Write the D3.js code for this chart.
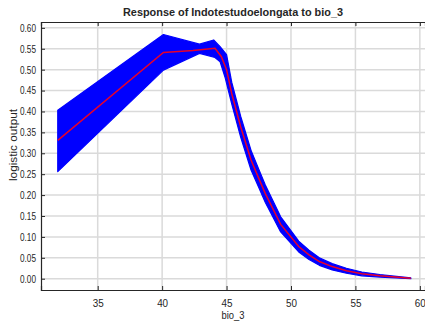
<!DOCTYPE html>
<html>
<head>
<meta charset="utf-8">
<script src="https://cdn.jsdelivr.net/npm/d3@7"></script>
<style>
body{margin:0;background:#fff}
svg{display:block}
text{font-family:"Liberation Sans",Arial,sans-serif;fill:#262626}
</style>
</head>
<body>
<svg id="chart" width="425" height="324"></svg>
<script>
// mean response curve (red)
var meanX=[31.9,40.1,42.4,44.1,44.6,45.0,45.4,46.1,46.9,47.5,48.0,49.2,50.6,51.4,52.2,53.2,54.3,55.5,56.9,59.3];
var meanY=[0.331,0.541,0.546,0.551,0.531,0.500,0.443,0.363,0.284,0.240,0.204,0.130,0.077,0.057,0.041,0.029,0.019,0.012,0.007,0.001];
// upper edge of the blue band
var upX=[31.9,40.1,42.9,44.0,44.5,45.0,45.4,46.1,46.9,47.5,48.0,49.2,50.6,51.4,52.2,53.2,54.3,55.5,56.9,59.3];
var upY=[0.403,0.584,0.561,0.571,0.555,0.536,0.470,0.388,0.307,0.262,0.225,0.148,0.090,0.068,0.050,0.036,0.025,0.016,0.010,0.002];
// lower edge of the blue band
var loX=[31.9,40.1,42.9,44.1,44.5,44.9,45.4,46.1,46.9,47.5,48.0,49.2,50.6,51.4,52.2,53.2,54.3,55.5,56.9,59.3];
var loY=[0.256,0.499,0.539,0.529,0.519,0.480,0.418,0.338,0.260,0.218,0.183,0.112,0.064,0.046,0.032,0.021,0.013,0.007,0.004,0.000];

var xTicks=[35,40,45,50,55,60];
var yTicks=[0,0.05,0.1,0.15,0.2,0.25,0.3,0.35,0.4,0.45,0.5,0.55,0.6];

var L=41,R=425,T=22,B=290;
var svg=d3.select("#chart");
var x=d3.scaleLinear().domain([30.6,60.4]).range([L,R]);
var y=d3.scaleLinear().domain([-0.027,0.614]).range([B,T]);

// grid
svg.append("g").selectAll("line").data(xTicks).enter().append("line")
  .attr("x1",d=>x(d)).attr("x2",d=>x(d)).attr("y1",T).attr("y2",B)
  .attr("stroke","#dadada").attr("stroke-width",1.5);
svg.append("g").selectAll("line").data(yTicks).enter().append("line")
  .attr("y1",d=>y(d)).attr("y2",d=>y(d)).attr("x1",L).attr("x2",R)
  .attr("stroke","#dadada").attr("stroke-width",1.5);

// band
var upPts=upX.map((d,i)=>[x(d),y(upY[i])]);
var loPts=loX.map((d,i)=>[x(d),y(loY[i])]).reverse();
svg.append("path")
  .attr("d",d3.line()(upPts.concat(loPts))+"Z")
  .attr("fill","#0000ff").attr("stroke","#0000ff").attr("stroke-width",1.2)
  .attr("stroke-linejoin","round");

// mean line
svg.append("path")
  .datum(meanX.map((d,i)=>[d,meanY[i]]))
  .attr("d",d3.line().x(d=>x(d[0])).y(d=>y(d[1])))
  .attr("fill","none").attr("stroke","#e8002a").attr("stroke-width",1.5);

// axes
var xb=svg.append("g").attr("transform","translate(0,"+B+")")
  .call(d3.axisBottom(x).tickValues(xTicks).tickSize(-4).tickPadding(10).tickFormat(d3.format("d")));
var xt=svg.append("g").attr("transform","translate(0,"+T+")")
  .call(d3.axisTop(x).tickValues(xTicks).tickSize(-4).tickFormat(""));
var yl=svg.append("g").attr("transform","translate("+L+",0)")
  .call(d3.axisLeft(y).tickValues(yTicks).tickSize(-4).tickPadding(5).tickFormat(d3.format(".2f")));
[xb,xt,yl].forEach(function(g){
  g.select(".domain").attr("stroke","#262626").attr("stroke-width",1.2);
  g.selectAll(".tick line").attr("stroke","#262626");
  g.selectAll("text").attr("font-size","10.5px").attr("fill","#333")
    .attr("font-family","'Liberation Sans',Arial,sans-serif")
    .attr("lengthAdjust","spacingAndGlyphs");
});
yl.selectAll(".tick text").attr("textLength",16);
xb.selectAll(".tick text").attr("textLength",11);

// labels
svg.append("text").attr("x",233).attr("y",16).attr("text-anchor","middle")
  .attr("font-size","11.5px").attr("font-weight","bold").attr("fill","#111")
  .attr("textLength",220).attr("lengthAdjust","spacingAndGlyphs")
  .text("Response of Indotestudoelongata to bio_3");
svg.append("text").attr("x",233).attr("y",319).attr("text-anchor","middle")
  .attr("font-size","11px").attr("textLength",23).attr("lengthAdjust","spacingAndGlyphs").text("bio_3");
svg.append("text").attr("transform","translate(17,145) rotate(-90)").attr("text-anchor","middle")
  .attr("font-size","11px").attr("textLength",72).attr("lengthAdjust","spacingAndGlyphs")
  .text("logistic output");
</script>
</body>
</html>
